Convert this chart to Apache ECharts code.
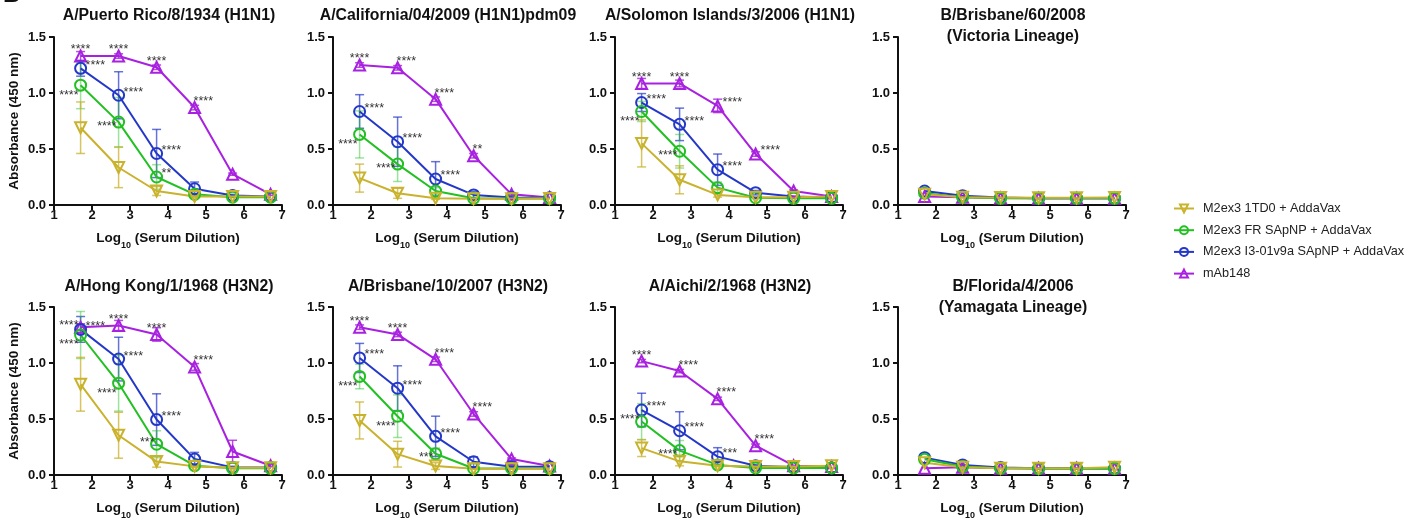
<!DOCTYPE html>
<html><head><meta charset="utf-8">
<script src="https://cdn.jsdelivr.net/npm/echarts@6/dist/echarts.min.js"></script>
<style>html,body{margin:0;padding:0;background:#fff}#c{width:1410px;height:521px}</style>
</head><body><div id="c"></div>
<script>
// ---------------- DATA ----------------
const dilution = [1.7, 2.7, 3.7, 4.7, 5.7, 6.7];
const groupNames = ['M2ex3 1TD0 + AddaVax', 'M2ex3 FR SApNP + AddaVax', 'M2ex3 I3-01v9a SApNP + AddaVax', 'mAb148'];
const panelTitles = [
  'A/Puerto Rico/8/1934 (H1N1)', 'A/California/04/2009 (H1N1)pdm09', 'A/Solomon Islands/3/2006 (H1N1)', 'B/Brisbane/60/2008\n(Victoria Lineage)',
  'A/Hong Kong/1/1968 (H3N2)', 'A/Brisbane/10/2007 (H3N2)', 'A/Aichi/2/1968 (H3N2)', 'B/Florida/4/2006\n(Yamagata Lineage)'
];
const yTickFmt = 1; // decimals on y tick labels

// rows: 1TD0, FR SApNP, I3-01v9a SApNP, mAb148
const meanPR8 = [
  [0.69, 0.335, 0.125, 0.075, 0.075, 0.075],
  [1.07, 0.74, 0.25, 0.095, 0.07, 0.07],
  [1.22, 0.98, 0.46, 0.145, 0.085, 0.075],
  [1.33, 1.33, 1.23, 0.87, 0.275, 0.095]];
const sdPR8 = [
  [0.23, 0.18, 0.04, 0.01, 0, 0],
  [0.21, 0.22, 0.11, 0.01, 0, 0],
  [0.07, 0.21, 0.215, 0.06, 0.01, 0],
  [0.04, 0.02, 0.02, 0.02, 0.01, 0.01]];
const meanCA09 = [
  [0.24, 0.105, 0.06, 0.055, 0.055, 0.058],
  [0.63, 0.365, 0.125, 0.06, 0.058, 0.058],
  [0.835, 0.565, 0.232, 0.09, 0.068, 0.065],
  [1.25, 1.225, 0.945, 0.44, 0.095, 0.068]];
const sdCA09 = [
  [0.125, 0.045, 0.01, 0, 0, 0],
  [0.21, 0.155, 0.03, 0.01, 0, 0],
  [0.15, 0.22, 0.155, 0.03, 0.01, 0],
  [0.02, 0.02, 0.02, 0.02, 0.01, 0]];
const meanSI06 = [
  [0.55, 0.225, 0.09, 0.07, 0.07, 0.075],
  [0.835, 0.48, 0.155, 0.065, 0.06, 0.06],
  [0.915, 0.72, 0.315, 0.11, 0.075, 0.068],
  [1.085, 1.085, 0.885, 0.455, 0.125, 0.075]];
const sdSI06 = [
  [0.21, 0.125, 0.02, 0, 0, 0],
  [0.09, 0.15, 0.05, 0.01, 0, 0],
  [0.08, 0.145, 0.14, 0.02, 0, 0],
  [0.045, 0.03, 0.06, 0.02, 0.01, 0]];
const meanBB08 = [
  [0.095, 0.07, 0.068, 0.065, 0.065, 0.068],
  [0.105, 0.07, 0.06, 0.06, 0.06, 0.06],
  [0.125, 0.083, 0.068, 0.06, 0.06, 0.06],
  [0.075, 0.07, 0.062, 0.06, 0.06, 0.06]];
const sdBB08 = [
  [0, 0, 0, 0, 0, 0], [0, 0, 0, 0, 0, 0], [0, 0, 0, 0, 0, 0], [0, 0, 0, 0, 0, 0]];
const meanHK68 = [
  [0.81, 0.355, 0.12, 0.077, 0.065, 0.065],
  [1.25, 0.82, 0.275, 0.083, 0.06, 0.06],
  [1.3, 1.035, 0.495, 0.142, 0.068, 0.068],
  [1.32, 1.335, 1.255, 0.965, 0.21, 0.083]];
const sdHK68 = [
  [0.24, 0.205, 0.05, 0.01, 0, 0],
  [0.21, 0.25, 0.12, 0.01, 0, 0],
  [0.115, 0.195, 0.23, 0.06, 0.01, 0],
  [0.03, 0.045, 0.06, 0.03, 0.1, 0.01]];
const meanBR07 = [
  [0.487, 0.186, 0.08, 0.056, 0.056, 0.056],
  [0.88, 0.525, 0.19, 0.058, 0.058, 0.058],
  [1.045, 0.775, 0.345, 0.118, 0.074, 0.074],
  [1.32, 1.255, 1.033, 0.545, 0.142, 0.08]];
const sdBR07 = [
  [0.165, 0.115, 0.03, 0, 0, 0],
  [0.11, 0.19, 0.05, 0, 0, 0],
  [0.13, 0.2, 0.18, 0.045, 0.01, 0],
  [0.02, 0.02, 0.02, 0.02, 0.01, 0]];
const meanAI68 = [
  [0.24, 0.122, 0.083, 0.075, 0.075, 0.083],
  [0.477, 0.218, 0.09, 0.063, 0.063, 0.063],
  [0.58, 0.395, 0.164, 0.083, 0.069, 0.063],
  [1.017, 0.928, 0.68, 0.262, 0.083, 0.075]];
const sdAI68 = [
  [0.075, 0.04, 0.01, 0, 0, 0],
  [0.16, 0.09, 0.01, 0, 0, 0],
  [0.15, 0.17, 0.08, 0.01, 0, 0],
  [0.015, 0.015, 0.015, 0.015, 0, 0]];
const meanFL06 = [
  [0.11, 0.069, 0.06, 0.06, 0.06, 0.069],
  [0.14, 0.075, 0.06, 0.056, 0.056, 0.056],
  [0.155, 0.09, 0.066, 0.06, 0.06, 0.06],
  [0.06, 0.069, 0.06, 0.06, 0.06, 0.06]];
const sdFL06 = [
  [0, 0, 0, 0, 0, 0], [0, 0, 0, 0, 0, 0], [0, 0, 0, 0, 0, 0], [0, 0, 0, 0, 0, 0]];

// significance marks: [group row, dilution index, text, placement code]
const starsPR8 = [[3,0,'****','T'],[3,1,'****','T'],[3,2,'****','T'],[3,3,'****','TR'],[2,0,'****','R'],[2,1,'****','R'],[2,2,'****','R'],[1,0,'****','L'],[1,1,'****','ML'],[1,2,'**','R']];
const starsCA09 = [[3,0,'****','T'],[3,1,'****','TR'],[3,2,'****','TR'],[3,3,'**','TR'],[2,0,'****','R'],[2,1,'****','R'],[2,2,'****','R'],[1,0,'****','L'],[1,1,'****','ML']];
const starsSI06 = [[3,0,'****','T'],[3,1,'****','T'],[3,2,'****','R'],[3,3,'****','R'],[2,0,'****','R'],[2,1,'****','R'],[2,2,'****','R'],[1,0,'****','L'],[1,1,'****','ML']];
const starsBB08 = [];
const starsHK68 = [[3,0,'****','TL'],[3,1,'****','T'],[3,2,'****','T'],[3,3,'****','TR'],[2,0,'****','R'],[2,1,'****','R'],[2,2,'****','R'],[1,0,'****','L'],[1,1,'****','L'],[1,2,'***','TL']];
const starsBR07 = [[3,0,'****','T'],[3,1,'****','T'],[3,2,'****','TR'],[3,3,'****','TR'],[2,0,'****','R'],[2,1,'****','R'],[2,2,'****','R'],[1,0,'****','L'],[1,1,'****','L'],[1,2,'***','ML']];
const starsAI68 = [[3,0,'****','T'],[3,1,'****','TR'],[3,2,'****','TR'],[3,3,'****','TR'],[2,0,'****','R'],[2,1,'****','R'],[2,2,'***','R'],[1,0,'****','TL'],[1,1,'****','ML']];
const starsFL06 = [];

// ---------------- STYLE / LAYOUT ----------------
const FONT = '"Liberation Sans", Arial, Helvetica, sans-serif';
const INK = '#111';
const groupColors = ['#C9B22C', '#22C022', '#2438C8', '#A820E0'];
const errColors = ['rgba(201,178,44,0.75)', 'rgba(34,192,34,0.45)', 'rgba(36,56,200,0.7)', 'rgba(168,32,224,0.8)'];
const groupSymbols = ['triangle', 'circle', 'circle', 'triangle'];
const groupRotate = [180, 0, 0, 0];
const drawOrder = [3, 2, 1, 0];
const colLeft = [54, 333, 615, 898];
const rowTop = [37, 307];
const gridW = 228, gridH = 168;
const titleCenterY = [16, 287];
const starPlace = {
  T:  {align: 'center', dx: 0,  dy: -9},
  TR: {align: 'left',   dx: -1, dy: -9},
  R:  {align: 'left',   dx: 5,  dy: -6},
  L:  {align: 'right',  dx: -2, dy: 7},
  ML: {align: 'right',  dx: -2, dy: 1},
  TL: {align: 'right',  dx: -2, dy: -5}
};

const panels = [
  [meanPR8, sdPR8, starsPR8], [meanCA09, sdCA09, starsCA09], [meanSI06, sdSI06, starsSI06], [meanBB08, sdBB08, starsBB08],
  [meanHK68, sdHK68, starsHK68], [meanBR07, sdBR07, starsBR07], [meanAI68, sdAI68, starsAI68], [meanFL06, sdFL06, starsFL06]
];

const grids = [], xAxes = [], yAxes = [], series = [], titles = [];
titles.push({text: 'B', left: 3, top: -17, padding: 0, textStyle: {fontFamily: FONT, fontSize: 24, fontWeight: 'bold', color: INK}});

panels.forEach(([mean, sd, stars], p) => {
  const row = p < 4 ? 0 : 1, col = p % 4;
  grids.push({left: colLeft[col], top: rowTop[row], width: gridW, height: gridH});
  titles.push({
    text: panelTitles[p], left: colLeft[col] + gridW / 2 + 1, top: titleCenterY[row] - 10.5,
    textAlign: 'center', padding: 0,
    textStyle: {fontFamily: FONT, fontSize: 15.8, fontWeight: 'bold', color: INK, lineHeight: 21}
  });
  xAxes.push({
    gridIndex: p, type: 'value', min: 1, max: 7, interval: 1,
    axisLine: {show: true, onZero: false, lineStyle: {color: INK, width: 2}},
    axisTick: {show: true, length: 5, lineStyle: {color: INK, width: 2}},
    axisLabel: {fontFamily: FONT, fontSize: 13, fontWeight: 'bold', color: INK, margin: 4},
    splitLine: {show: false},
    name: '{m|Log}{s|10}{m| (Serum Dilution)}', nameLocation: 'middle', nameGap: 21,
    nameTextStyle: {color: INK, rich: {
      m: {fontFamily: FONT, fontSize: 13.5, fontWeight: 'bold', color: INK, lineHeight: 24},
      s: {fontFamily: FONT, fontSize: 9, fontWeight: 'bold', color: INK, verticalAlign: 'bottom'}
    }}
  });
  yAxes.push({
    gridIndex: p, type: 'value', min: 0, max: 1.5, interval: 0.5,
    axisLine: {show: true, lineStyle: {color: INK, width: 2}},
    axisTick: {show: true, length: 5, lineStyle: {color: INK, width: 2}},
    axisLabel: {fontFamily: FONT, fontSize: 13, fontWeight: 'bold', color: INK, margin: 8, formatter: v => v.toFixed(yTickFmt)},
    splitLine: {show: false},
    name: col === 0 ? 'Absorbance (450 nm)' : '', nameLocation: 'middle', nameGap: 33,
    nameTextStyle: {fontFamily: FONT, fontSize: 13.5, fontWeight: 'bold', color: INK}
  });
  // error bars
  drawOrder.forEach(g => {
    series.push({
      type: 'custom', xAxisIndex: p, yAxisIndex: p, z: 1, silent: true, clip: false,
      data: dilution.map((x, i) => [x, mean[g][i], sd[g][i]]),
      renderItem: (params, api) => {
        const x = api.value(0), y = api.value(1), e = api.value(2);
        if (!(e > 0)) return null;
        const t = api.coord([x, y + e]), b = api.coord([x, Math.max(0, y - e)]);
        const cw = 4.5, st = {stroke: errColors[g], lineWidth: 1.5};
        return {type: 'group', children: [
          {type: 'line', shape: {x1: t[0], y1: t[1], x2: b[0], y2: b[1]}, style: st},
          {type: 'line', shape: {x1: t[0] - cw, y1: t[1], x2: t[0] + cw, y2: t[1]}, style: st},
          {type: 'line', shape: {x1: b[0] - cw, y1: b[1], x2: b[0] + cw, y2: b[1]}, style: st}
        ]};
      }
    });
  });
  // lines + markers
  drawOrder.forEach(g => {
    series.push({
      type: 'line', name: groupNames[g], xAxisIndex: p, yAxisIndex: p, z: 3,
      data: dilution.map((x, i) => [x, mean[g][i]]),
      symbol: groupSymbols[g], symbolRotate: groupRotate[g], symbolSize: 11, showAllSymbol: true,
      lineStyle: {color: groupColors[g], width: 2},
      itemStyle: {color: 'rgba(255,255,255,0)', borderColor: groupColors[g], borderWidth: 2},
      emphasis: {disabled: true}
    });
  });
  // significance marks
  if (stars.length) {
    series.push({
      type: 'custom', xAxisIndex: p, yAxisIndex: p, z: 5, silent: true, clip: false,
      data: stars.map(s => [dilution[s[1]], mean[s[0]][s[1]]]),
      renderItem: (params, api) => {
        const s = stars[params.dataIndex];
        const pl = starPlace[s[3]];
        const pt = api.coord([api.value(0), api.value(1)]);
        return {type: 'text', x: pt[0] + pl.dx, y: pt[1] + pl.dy + 3, style: {
          text: s[2], align: pl.align, verticalAlign: 'middle', textAlign: pl.align, textVerticalAlign: 'middle',
          fontSize: 12.5, fontFamily: FONT, fill: '#333'
        }};
      }
    });
  }
});

const chart = echarts.init(document.getElementById('c'));
chart.setOption({
  animation: false,
  backgroundColor: '#fff',
  title: titles,
  grid: grids, xAxis: xAxes, yAxis: yAxes,
  legend: {
    orient: 'vertical', left: 1168, top: 197, itemWidth: 20, itemHeight: 10, itemGap: 8.7,
    data: groupNames, selectedMode: false,
    textStyle: {fontFamily: FONT, fontSize: 12.7, color: '#222', padding: [0, 0, 0, 4]}
  },
  series: series
});
</script></body></html>
